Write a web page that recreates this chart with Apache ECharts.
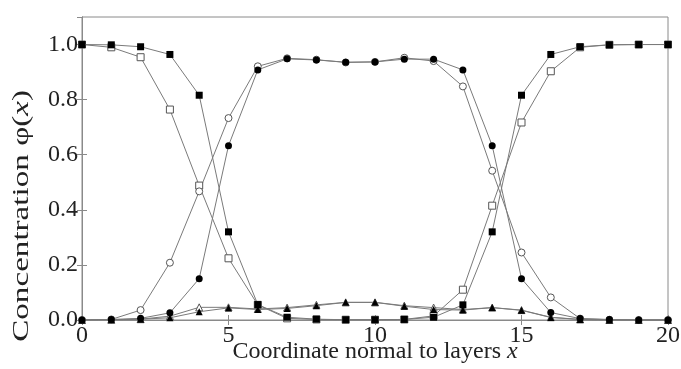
<!DOCTYPE html>
<html>
<head>
<meta charset="utf-8">
<script src="https://cdn.jsdelivr.net/npm/echarts@6/dist/echarts.min.js"></script>
<style>
html, body {margin:0; padding:0; background:#fff;}
#chart {width:681px; height:369px;}
</style>
</head>
<body>
<div id="chart"></div>
<script>
var xValues = [0,1,2,3,4,5,6,7,8,9,10,11,12,13,14,15,16,17,18,19,20];
var yTicks = [0.0, 0.2, 0.4, 0.6, 0.8, 1.0];
var xTicks = [0, 5, 10, 15, 20];

var squareFilled = [1.0,0.999,0.992,0.964,0.816,0.32,0.056,0.01,0.003,0.001,0.001,0.002,0.01,0.055,0.32,0.816,0.964,0.992,0.999,1.0,1.0];
var squareOpen   = [1.0,0.99,0.954,0.764,0.488,0.224,0.055,0.006,0.002,0.001,0.001,0.002,0.015,0.11,0.415,0.717,0.903,0.99,0.999,1.0,1.0];
var circleOpen   = [0.0,0.002,0.036,0.208,0.467,0.733,0.921,0.95,0.945,0.935,0.937,0.952,0.94,0.848,0.542,0.245,0.082,0.005,0.001,0.0,0.0];
var circleFilled = [0.0,0.002,0.006,0.026,0.15,0.633,0.908,0.948,0.944,0.936,0.937,0.947,0.947,0.908,0.633,0.15,0.027,0.005,0.002,0.0,0.0];
var triOpen      = [0.0,0.001,0.003,0.014,0.046,0.046,0.04,0.045,0.055,0.064,0.064,0.052,0.045,0.038,0.045,0.036,0.01,0.002,0.0,0.0,0.0];
var triFilled    = [0.0,0.001,0.003,0.008,0.03,0.044,0.038,0.042,0.052,0.064,0.064,0.05,0.038,0.036,0.045,0.035,0.009,0.002,0.0,0.0,0.0];

function pairs(arr) {
    var out = [];
    for (var i = 0; i < xValues.length; i++) { out.push([xValues[i], arr[i]]); }
    return out;
}

var FONT = '"Liberation Serif", "Times New Roman", serif';
var axisGray = '#8a8a8a';

function mkSeries(arr, symbol, filled, size) {
    return {
        type: 'line', data: pairs(arr), symbol: symbol, symbolSize: size, showAllSymbol: true,
        lineStyle: {color: '#7a7a7a', width: 1},
        itemStyle: {color: filled ? '#000' : '#fff', borderColor: filled ? '#000' : '#555', borderWidth: filled ? 0 : 1},
        emphasis: {disabled: true}, animation: false, z: filled ? 3 : 2
    };
}

var chart = echarts.init(document.getElementById('chart'));

var option = {
    backgroundColor: '#fff',
    animation: false,
    textStyle: {fontFamily: FONT},
    grid: {left: 82, right: 13, top: 17, bottom: 49, outerBoundsMode: 'none', containLabel: false,
           show: true, borderColor: axisGray, borderWidth: 1},
    xAxis: [
        {type: 'value', min: 0, max: 20, interval: 5, position: 'bottom',
         axisLine: {lineStyle: {color: axisGray, width: 1}},
         axisTick: {inside: true, length: 5, lineStyle: {color: axisGray}},
         axisLabel: {color: '#222', fontFamily: FONT, fontSize: 24, margin: 4,
            formatter: function (v) { return xTicks.indexOf(v) >= 0 ? String(v) : ''; }},
         splitLine: {show: false},
         name: '{a|Coordinate normal to layers }{i|x}', nameLocation: 'middle', nameGap: 20,
         nameMoveOverlap: false,
         nameTextStyle: {rich: {
            a: {fontFamily: FONT, fontSize: 24, color: '#222'},
            i: {fontFamily: FONT, fontSize: 24, color: '#222', fontStyle: 'italic'}}}},
        {type: 'value', min: 0, max: 20, interval: 5, position: 'top',
         axisLine: {show: true, lineStyle: {color: axisGray, width: 1}},
         axisTick: {show: true, inside: true, length: 5, lineStyle: {color: axisGray}},
         axisLabel: {show: false}, splitLine: {show: false}}
    ],
    yAxis: [
        {type: 'value', min: 0, max: 1.1, interval: 0.2, position: 'left',
         axisLine: {lineStyle: {color: axisGray, width: 1}},
         axisTick: {inside: true, length: 5, lineStyle: {color: axisGray}},
         axisLabel: {color: '#222', fontFamily: FONT, fontSize: 24, margin: 4, showMaxLabel: false,
            formatter: function (v) {
                for (var i = 0; i < yTicks.length; i++) { if (Math.abs(yTicks[i] - v) < 1e-6) return yTicks[i].toFixed(1); }
                return '';
            }},
         splitLine: {show: false}},
        {type: 'value', min: 0, max: 1.1, interval: 0.2, position: 'right',
         axisLine: {show: true, lineStyle: {color: axisGray, width: 1}},
         axisTick: {show: true, inside: true, length: 5, lineStyle: {color: axisGray}},
         axisLabel: {show: false}, splitLine: {show: false}}
    ],
    graphic: [{
        type: 'text', left: 10, top: 90, rotation: Math.PI / 2, scaleX: 1.38,
        style: {
            text: '{a|Concentration φ(}{i|x}{a|)}',
            rich: {
                a: {fontFamily: FONT, fontSize: 24, fill: '#222'},
                i: {fontFamily: FONT, fontSize: 24, fill: '#222', fontStyle: 'italic'}
            }
        }
    }],
    series: [
        mkSeries(squareOpen, 'rect', false, 7),
        mkSeries(circleOpen, 'circle', false, 7),
        mkSeries(triOpen, 'triangle', false, 7),
        mkSeries(squareFilled, 'rect', true, 7),
        mkSeries(circleFilled, 'circle', true, 7),
        mkSeries(triFilled, 'triangle', true, 7),
        {type: 'line', xAxisIndex: 1, yAxisIndex: 1, data: [], silent: true}
    ]
};

chart.setOption(option);
</script>
</body>
</html>
